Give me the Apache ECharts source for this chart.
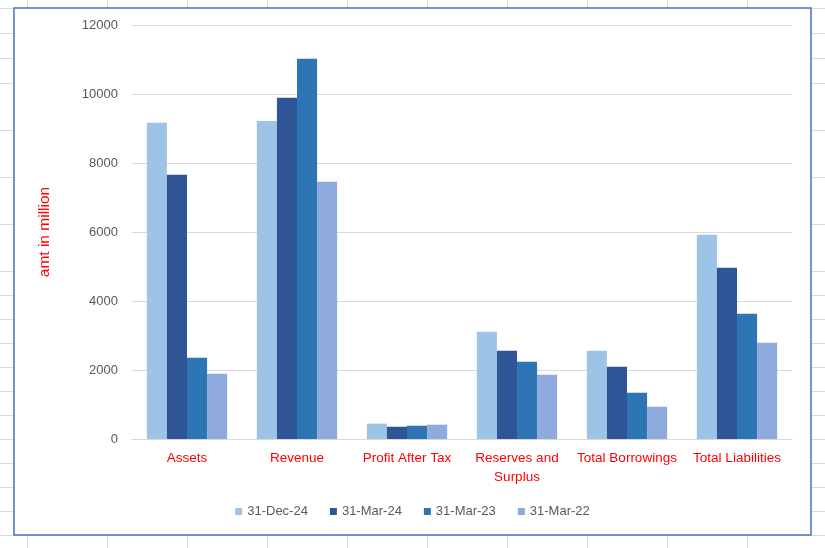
<!DOCTYPE html>
<html>
<head>
<meta charset="utf-8">
<script src="https://cdn.jsdelivr.net/npm/echarts@6/dist/echarts.min.js"></script>
<style>
html,body{margin:0;padding:0;background:#fff;}
#sheet{position:absolute;left:0;top:0;width:825px;height:548px;overflow:hidden;}
.hl{position:absolute;left:0;width:825px;height:1px;background:#dadada;}
.vl{position:absolute;top:0;width:1px;height:548px;background:#dadada;}
#main{position:absolute;left:0;top:0;width:825px;height:548px;}
</style>
</head>
<body>
<div id="sheet"></div>
<div id="main"></div>
<script>
// Data
const categories = ['Assets', 'Revenue', 'Profit After Tax', 'Reserves and Surplus', 'Total Borrowings', 'Total Liabilities'];
const seriesNames = ['31-Dec-24', '31-Mar-24', '31-Mar-23', '31-Mar-22'];
const dec24 = [9170, 9220, 445, 3110, 2560, 5920];
const mar24 = [7660, 9890, 355, 2560, 2095, 4965];
const mar23 = [2355, 11020, 385, 2240, 1340, 3630];
const mar22 = [1890, 7455, 415, 1860, 935, 2790];
const yTicks = [0, 2000, 4000, 6000, 8000, 10000, 12000];

// Spreadsheet backdrop (decoration)
const sheet = document.getElementById('sheet');
const rowYs = [8, 33, 58, 83, 130, 177, 224, 271, 295, 319, 343, 367, 391, 415, 439, 463, 487, 511, 535];
rowYs.forEach(y => { const d = document.createElement('div'); d.className = 'hl'; d.style.top = y + 'px'; sheet.appendChild(d); });
for (let x = 27; x < 825; x += 80) { const d = document.createElement('div'); d.className = 'vl'; d.style.left = x + 'px'; sheet.appendChild(d); }

const colors = ['#9DC3E6', '#2F5597', '#2E75B6', '#8FAADC'];
const values = [dec24, mar24, mar23, mar22];

const chart = echarts.init(document.getElementById('main'), null, {renderer: 'canvas'});
chart.setOption({
  backgroundColor: 'transparent',
  animation: false,
  graphic: [{
    type: 'rect', z: -10, silent: true,
    shape: {x: 14, y: 8, width: 797, height: 527},
    style: {fill: '#ffffff', stroke: '#4472C4', lineWidth: 1.5}
  }],
  grid: {left: 132, right: 33, top: 25, bottom: 109, containLabel: false},
  legend: {
    data: seriesNames,
    left: 'center', top: 500,
    icon: 'rect', itemWidth: 7, itemHeight: 7, itemGap: 22,
    textStyle: {color: '#595959', fontSize: 13, fontFamily: 'Liberation Sans'}
  },
  xAxis: {
    type: 'category', data: categories,
    axisLine: {lineStyle: {color: '#D9D9D9', width: 1}},
    axisTick: {show: false},
    axisLabel: {
      interval: 0, color: '#FF0000', fontSize: 13.5, fontFamily: 'Liberation Sans',
      margin: 10, lineHeight: 19,
      formatter: v => v === 'Reserves and Surplus' ? 'Reserves and\nSurplus' : v
    }
  },
  yAxis: {
    type: 'value', min: yTicks[0], max: yTicks[yTicks.length - 1], interval: 2000,
    name: 'amt in million', nameLocation: 'middle', nameGap: 79,
    nameTextStyle: {color: '#FF0000', fontSize: 15.5, fontFamily: 'Liberation Sans'},
    axisLine: {show: false}, axisTick: {show: false},
    axisLabel: {color: '#595959', fontSize: 13, fontFamily: 'Liberation Sans', margin: 14,
      formatter: v => String(v)},
    splitLine: {lineStyle: {color: '#D9D9D9', width: 1}}
  },
  series: seriesNames.map((n, i) => ({
    name: n, type: 'bar', data: values[i],
    barGap: '0%', barCategoryGap: '27%',
    itemStyle: {color: colors[i]}
  }))
});
</script>
</body>
</html>
